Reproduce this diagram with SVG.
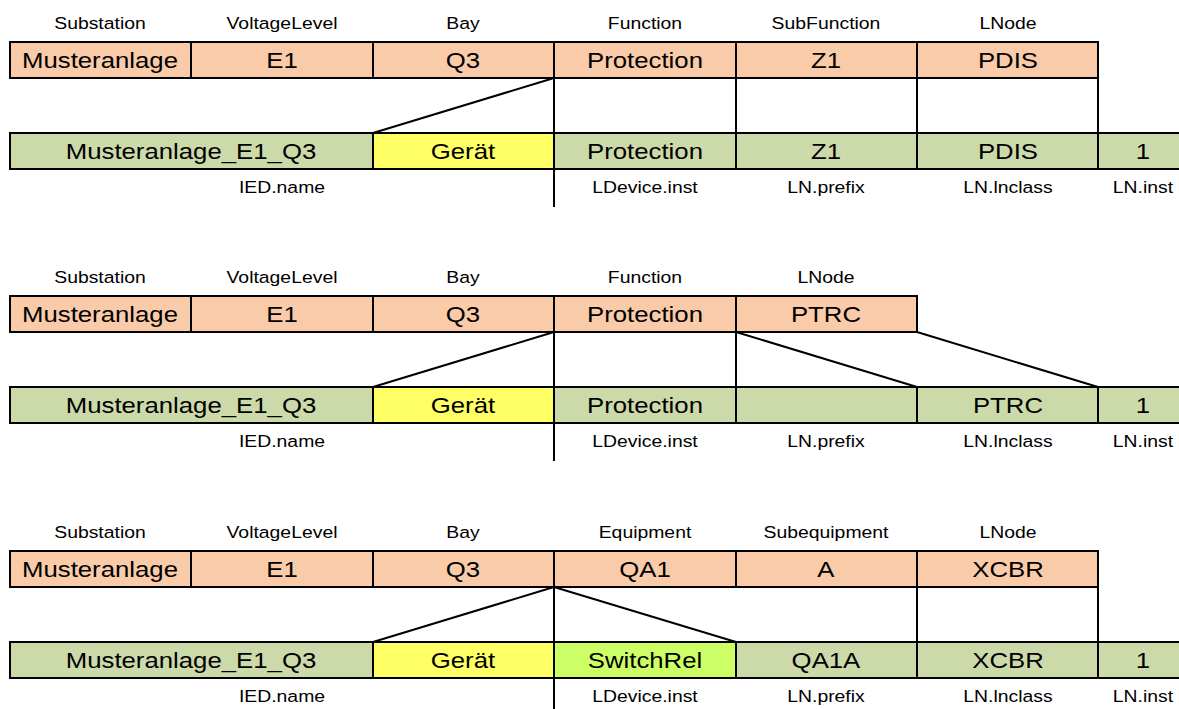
<svg xmlns="http://www.w3.org/2000/svg" width="1179" height="709" viewBox="0 0 1179 709">
  <style>
    .bg { fill: #ffffff; }
    .sub { fill: #F9CBA8; stroke: #000; stroke-width: 2; }
    .ied { fill: #CCDAAA; stroke: #000; stroke-width: 2; }
    .dev { fill: #FFFF66; stroke: #000; stroke-width: 2; }
    .rel { fill: #CCFF66; stroke: #000; stroke-width: 2; }
    text { transform-box: fill-box; transform-origin: center; }
    .big { font-family: "Liberation Sans", Arial, sans-serif; font-size: 23px; fill: #000; text-anchor: middle; transform: scaleX(1.12); }
    .small { font-family: "Liberation Sans", Arial, sans-serif; font-size: 17px; fill: #000; text-anchor: middle; transform: scaleX(1.14); }
    .conn line { stroke: #000; stroke-width: 2; fill: none; }
  </style>
  <rect class="bg" x="0" y="0" width="1179" height="709"/>

  <!-- Example 1: function-based LN (PDIS) -->
  <g id="example-pdis">
    <g id="pdis-headers">
      <text class="small" x="100" y="29">Substation</text>
      <text class="small" x="282" y="29">VoltageLevel</text>
      <text class="small" x="463" y="29">Bay</text>
      <text class="small" x="645" y="29">Function</text>
      <text class="small" x="826" y="29">SubFunction</text>
      <text class="small" x="1008" y="29">LNode</text>
    </g>
    <g id="pdis-substation"><rect class="sub" x="10" y="42" width="181" height="36"/><text class="big" x="100" y="68">Musteranlage</text></g>
    <g id="pdis-voltagelevel"><rect class="sub" x="191" y="42" width="182" height="36"/><text class="big" x="282" y="68">E1</text></g>
    <g id="pdis-bay"><rect class="sub" x="373" y="42" width="181" height="36"/><text class="big" x="463" y="68">Q3</text></g>
    <g id="pdis-function"><rect class="sub" x="554" y="42" width="182" height="36"/><text class="big" x="645" y="68">Protection</text></g>
    <g id="pdis-subfunction"><rect class="sub" x="736" y="42" width="181" height="36"/><text class="big" x="826" y="68">Z1</text></g>
    <g id="pdis-lnode"><rect class="sub" x="917" y="42" width="181" height="36"/><text class="big" x="1008" y="68">PDIS</text></g>

    <g id="pdis-iedname"><rect class="ied" x="10" y="133" width="363" height="36"/><text class="big" x="191" y="159">Musteranlage_E1_Q3</text></g>
    <g id="pdis-geraet"><rect class="dev" x="373" y="133" width="181" height="36"/><text class="big" x="463" y="159">Gerät</text></g>
    <g id="pdis-ldinst"><rect class="ied" x="554" y="133" width="182" height="36"/><text class="big" x="645" y="159">Protection</text></g>
    <g id="pdis-prefix"><rect class="ied" x="736" y="133" width="181" height="36"/><text class="big" x="826" y="159">Z1</text></g>
    <g id="pdis-lnclass"><rect class="ied" x="917" y="133" width="181" height="36"/><text class="big" x="1008" y="159">PDIS</text></g>
    <g id="pdis-lninst"><rect class="ied" x="1098" y="133" width="90" height="36"/><text class="big" x="1143" y="159">1</text></g>

    <g id="pdis-attrs">
      <text class="small" x="282" y="193">IED.name</text>
      <text class="small" x="645" y="193">LDevice.inst</text>
      <text class="small" x="826" y="193">LN.prefix</text>
      <text class="small" x="1008" y="193">LN.lnclass</text>
      <text class="small" x="1143" y="193">LN.inst</text>
    </g>

    <g id="pdis-connectors" class="conn">
      <line x1="554" y1="78" x2="554" y2="207"/>
      <line x1="736" y1="78" x2="736" y2="133"/>
      <line x1="917" y1="78" x2="917" y2="133"/>
      <line x1="1098" y1="78" x2="1098" y2="133"/>
      <line x1="554" y1="78" x2="373" y2="133"/>
    </g>
  </g>

  <!-- Example 2: function-based LN without subfunction (PTRC) -->
  <g id="example-ptrc" transform="translate(0,254)">
    <g id="ptrc-headers">
      <text class="small" x="100" y="29">Substation</text>
      <text class="small" x="282" y="29">VoltageLevel</text>
      <text class="small" x="463" y="29">Bay</text>
      <text class="small" x="645" y="29">Function</text>
      <text class="small" x="826" y="29">LNode</text>
    </g>
    <g id="ptrc-substation"><rect class="sub" x="10" y="42" width="181" height="36"/><text class="big" x="100" y="68">Musteranlage</text></g>
    <g id="ptrc-voltagelevel"><rect class="sub" x="191" y="42" width="182" height="36"/><text class="big" x="282" y="68">E1</text></g>
    <g id="ptrc-bay"><rect class="sub" x="373" y="42" width="181" height="36"/><text class="big" x="463" y="68">Q3</text></g>
    <g id="ptrc-function"><rect class="sub" x="554" y="42" width="182" height="36"/><text class="big" x="645" y="68">Protection</text></g>
    <g id="ptrc-lnode"><rect class="sub" x="736" y="42" width="181" height="36"/><text class="big" x="826" y="68">PTRC</text></g>

    <g id="ptrc-iedname"><rect class="ied" x="10" y="133" width="363" height="36"/><text class="big" x="191" y="159">Musteranlage_E1_Q3</text></g>
    <g id="ptrc-geraet"><rect class="dev" x="373" y="133" width="181" height="36"/><text class="big" x="463" y="159">Gerät</text></g>
    <g id="ptrc-ldinst"><rect class="ied" x="554" y="133" width="182" height="36"/><text class="big" x="645" y="159">Protection</text></g>
    <g id="ptrc-prefix"><rect class="ied" x="736" y="133" width="181" height="36"/></g>
    <g id="ptrc-lnclass"><rect class="ied" x="917" y="133" width="181" height="36"/><text class="big" x="1008" y="159">PTRC</text></g>
    <g id="ptrc-lninst"><rect class="ied" x="1098" y="133" width="90" height="36"/><text class="big" x="1143" y="159">1</text></g>

    <g id="ptrc-attrs">
      <text class="small" x="282" y="193">IED.name</text>
      <text class="small" x="645" y="193">LDevice.inst</text>
      <text class="small" x="826" y="193">LN.prefix</text>
      <text class="small" x="1008" y="193">LN.lnclass</text>
      <text class="small" x="1143" y="193">LN.inst</text>
    </g>

    <g id="ptrc-connectors" class="conn">
      <line x1="554" y1="78" x2="554" y2="207"/>
      <line x1="736" y1="78" x2="736" y2="133"/>
      <line x1="554" y1="78" x2="373" y2="133"/>
      <line x1="736" y1="78" x2="917" y2="133"/>
      <line x1="917" y1="78" x2="1098" y2="133"/>
    </g>
  </g>

  <!-- Example 3: equipment-based LN (XCBR) -->
  <g id="example-xcbr" transform="translate(0,509)">
    <g id="xcbr-headers">
      <text class="small" x="100" y="29">Substation</text>
      <text class="small" x="282" y="29">VoltageLevel</text>
      <text class="small" x="463" y="29">Bay</text>
      <text class="small" x="645" y="29">Equipment</text>
      <text class="small" x="826" y="29">Subequipment</text>
      <text class="small" x="1008" y="29">LNode</text>
    </g>
    <g id="xcbr-substation"><rect class="sub" x="10" y="42" width="181" height="36"/><text class="big" x="100" y="68">Musteranlage</text></g>
    <g id="xcbr-voltagelevel"><rect class="sub" x="191" y="42" width="182" height="36"/><text class="big" x="282" y="68">E1</text></g>
    <g id="xcbr-bay"><rect class="sub" x="373" y="42" width="181" height="36"/><text class="big" x="463" y="68">Q3</text></g>
    <g id="xcbr-equipment"><rect class="sub" x="554" y="42" width="182" height="36"/><text class="big" x="645" y="68">QA1</text></g>
    <g id="xcbr-subequipment"><rect class="sub" x="736" y="42" width="181" height="36"/><text class="big" x="826" y="68">A</text></g>
    <g id="xcbr-lnode"><rect class="sub" x="917" y="42" width="181" height="36"/><text class="big" x="1008" y="68">XCBR</text></g>

    <g id="xcbr-iedname"><rect class="ied" x="10" y="133" width="363" height="36"/><text class="big" x="191" y="159">Musteranlage_E1_Q3</text></g>
    <g id="xcbr-geraet"><rect class="dev" x="373" y="133" width="181" height="36"/><text class="big" x="463" y="159">Gerät</text></g>
    <g id="xcbr-ldinst"><rect class="rel" x="554" y="133" width="182" height="36"/><text class="big" x="645" y="159">SwitchRel</text></g>
    <g id="xcbr-prefix"><rect class="ied" x="736" y="133" width="181" height="36"/><text class="big" x="826" y="159">QA1A</text></g>
    <g id="xcbr-lnclass"><rect class="ied" x="917" y="133" width="181" height="36"/><text class="big" x="1008" y="159">XCBR</text></g>
    <g id="xcbr-lninst"><rect class="ied" x="1098" y="133" width="90" height="36"/><text class="big" x="1143" y="159">1</text></g>

    <g id="xcbr-attrs">
      <text class="small" x="282" y="193">IED.name</text>
      <text class="small" x="645" y="193">LDevice.inst</text>
      <text class="small" x="826" y="193">LN.prefix</text>
      <text class="small" x="1008" y="193">LN.lnclass</text>
      <text class="small" x="1143" y="193">LN.inst</text>
    </g>

    <g id="xcbr-connectors" class="conn">
      <line x1="554" y1="78" x2="554" y2="200"/>
      <line x1="917" y1="78" x2="917" y2="133"/>
      <line x1="1098" y1="78" x2="1098" y2="133"/>
      <line x1="554" y1="78" x2="373" y2="133"/>
      <line x1="554" y1="78" x2="736" y2="133"/>
    </g>
  </g>
</svg>
